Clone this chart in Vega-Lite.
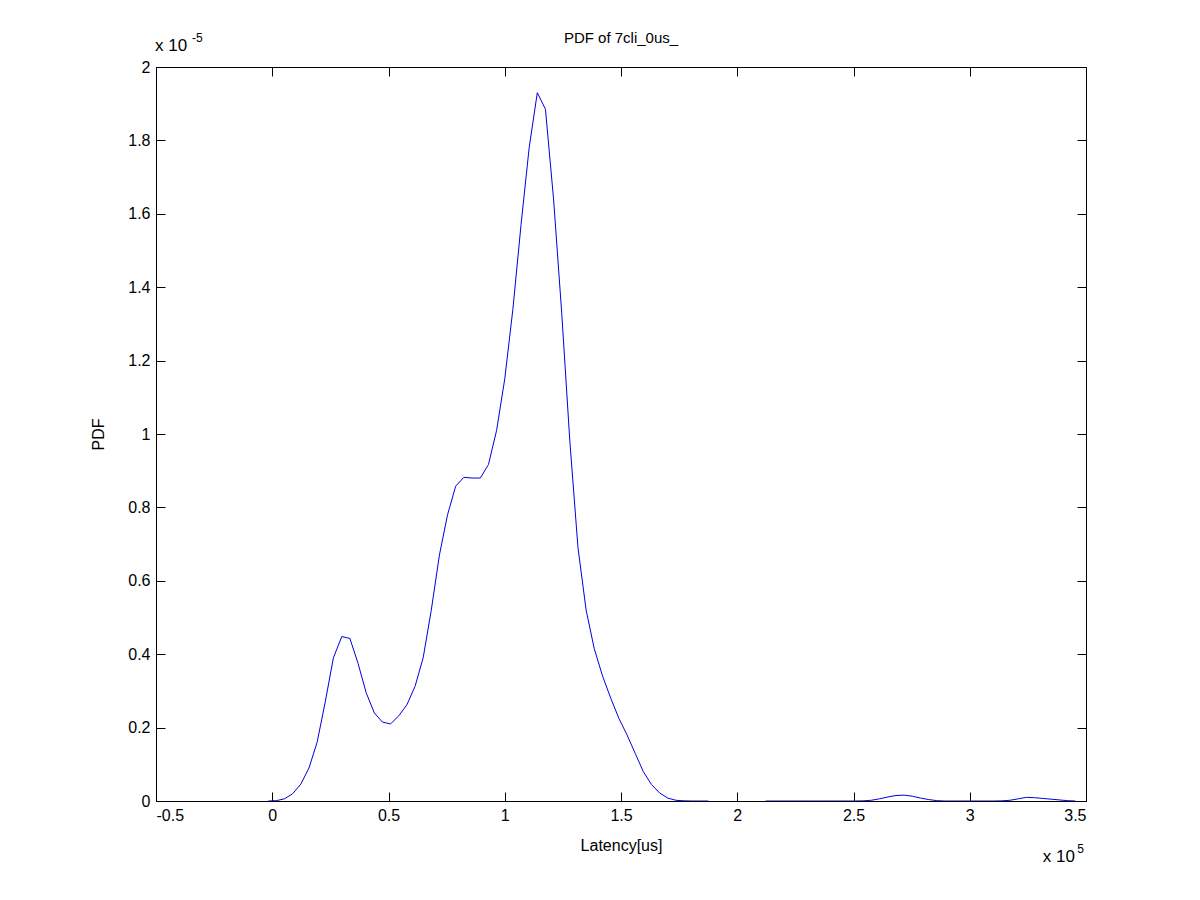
{
  "$schema": "https://vega.github.io/schema/vega-lite/v6.json",
  "width": 930,
  "height": 734,
  "autosize": "none",
  "padding": {"left": 156, "top": 67, "right": 114, "bottom": 99},
  "background": "white",
  "config": {
    "view": {"stroke": "black", "strokeWidth": 1},
    "font": "Liberation Sans",
    "axis": {
      "grid": false,
      "domainColor": "black",
      "tickColor": "black",
      "tickWidth": 1,
      "tickSize": -9,
      "labelColor": "black",
      "labelFontSize": 16,
      "titleFontSize": 16,
      "titleFontWeight": "normal",
      "titleColor": "black",
      "labelPadding": 15
    }
  },
  "title": {"text": "PDF of 7cli_0us_", "fontSize": 15, "fontWeight": "normal", "color": "black", "offset": -14},
  "data": {"values": [
    {"latency": -0.017, "pdf": 0, "segment": 1},
    {"latency": 0.018, "pdf": 0.001, "segment": 1},
    {"latency": 0.053, "pdf": 0.006, "segment": 1},
    {"latency": 0.088, "pdf": 0.02, "segment": 1},
    {"latency": 0.123, "pdf": 0.046, "segment": 1},
    {"latency": 0.158, "pdf": 0.09, "segment": 1},
    {"latency": 0.193, "pdf": 0.16, "segment": 1},
    {"latency": 0.228, "pdf": 0.27, "segment": 1},
    {"latency": 0.263, "pdf": 0.39, "segment": 1},
    {"latency": 0.299, "pdf": 0.448, "segment": 1},
    {"latency": 0.334, "pdf": 0.443, "segment": 1},
    {"latency": 0.369, "pdf": 0.375, "segment": 1},
    {"latency": 0.404, "pdf": 0.295, "segment": 1},
    {"latency": 0.439, "pdf": 0.24, "segment": 1},
    {"latency": 0.474, "pdf": 0.215, "segment": 1},
    {"latency": 0.509, "pdf": 0.21, "segment": 1},
    {"latency": 0.544, "pdf": 0.232, "segment": 1},
    {"latency": 0.579, "pdf": 0.262, "segment": 1},
    {"latency": 0.614, "pdf": 0.312, "segment": 1},
    {"latency": 0.649, "pdf": 0.39, "segment": 1},
    {"latency": 0.684, "pdf": 0.52, "segment": 1},
    {"latency": 0.719, "pdf": 0.67, "segment": 1},
    {"latency": 0.754, "pdf": 0.78, "segment": 1},
    {"latency": 0.789, "pdf": 0.858, "segment": 1},
    {"latency": 0.824, "pdf": 0.882, "segment": 1},
    {"latency": 0.86, "pdf": 0.88, "segment": 1},
    {"latency": 0.895, "pdf": 0.88, "segment": 1},
    {"latency": 0.93, "pdf": 0.917, "segment": 1},
    {"latency": 0.965, "pdf": 1.01, "segment": 1},
    {"latency": 1.0, "pdf": 1.15, "segment": 1},
    {"latency": 1.035, "pdf": 1.34, "segment": 1},
    {"latency": 1.07, "pdf": 1.57, "segment": 1},
    {"latency": 1.105, "pdf": 1.78, "segment": 1},
    {"latency": 1.14, "pdf": 1.93, "segment": 1},
    {"latency": 1.175, "pdf": 1.885, "segment": 1},
    {"latency": 1.21, "pdf": 1.64, "segment": 1},
    {"latency": 1.245, "pdf": 1.33, "segment": 1},
    {"latency": 1.28, "pdf": 0.98, "segment": 1},
    {"latency": 1.315, "pdf": 0.69, "segment": 1},
    {"latency": 1.35, "pdf": 0.52, "segment": 1},
    {"latency": 1.385, "pdf": 0.415, "segment": 1},
    {"latency": 1.421, "pdf": 0.34, "segment": 1},
    {"latency": 1.456, "pdf": 0.28, "segment": 1},
    {"latency": 1.491, "pdf": 0.225, "segment": 1},
    {"latency": 1.526, "pdf": 0.18, "segment": 1},
    {"latency": 1.561, "pdf": 0.13, "segment": 1},
    {"latency": 1.596, "pdf": 0.08, "segment": 1},
    {"latency": 1.631, "pdf": 0.045, "segment": 1},
    {"latency": 1.666, "pdf": 0.022, "segment": 1},
    {"latency": 1.701, "pdf": 0.008, "segment": 1},
    {"latency": 1.736, "pdf": 0.002, "segment": 1},
    {"latency": 1.771, "pdf": 0.0005, "segment": 1},
    {"latency": 1.806, "pdf": 0, "segment": 1},
    {"latency": 1.841, "pdf": 0, "segment": 1},
    {"latency": 1.876, "pdf": 0, "segment": 1},
    {"latency": 2.122, "pdf": 0, "segment": 2},
    {"latency": 2.157, "pdf": 0, "segment": 2},
    {"latency": 2.192, "pdf": 0, "segment": 2},
    {"latency": 2.227, "pdf": 0, "segment": 2},
    {"latency": 2.262, "pdf": 0, "segment": 2},
    {"latency": 2.297, "pdf": 0, "segment": 2},
    {"latency": 2.332, "pdf": 0, "segment": 2},
    {"latency": 2.367, "pdf": 0, "segment": 2},
    {"latency": 2.402, "pdf": 0, "segment": 2},
    {"latency": 2.437, "pdf": 0, "segment": 2},
    {"latency": 2.472, "pdf": 0, "segment": 2},
    {"latency": 2.507, "pdf": 0, "segment": 2},
    {"latency": 2.542, "pdf": 0.0005, "segment": 2},
    {"latency": 2.577, "pdf": 0.002, "segment": 2},
    {"latency": 2.612, "pdf": 0.006, "segment": 2},
    {"latency": 2.648, "pdf": 0.011, "segment": 2},
    {"latency": 2.683, "pdf": 0.015, "segment": 2},
    {"latency": 2.718, "pdf": 0.016, "segment": 2},
    {"latency": 2.753, "pdf": 0.013, "segment": 2},
    {"latency": 2.788, "pdf": 0.008, "segment": 2},
    {"latency": 2.823, "pdf": 0.004, "segment": 2},
    {"latency": 2.858, "pdf": 0.001, "segment": 2},
    {"latency": 2.893, "pdf": 0, "segment": 2},
    {"latency": 2.928, "pdf": 0, "segment": 2},
    {"latency": 2.963, "pdf": 0, "segment": 2},
    {"latency": 2.998, "pdf": 0, "segment": 2},
    {"latency": 3.033, "pdf": 0, "segment": 2},
    {"latency": 3.068, "pdf": 0, "segment": 2},
    {"latency": 3.103, "pdf": 0, "segment": 2},
    {"latency": 3.138, "pdf": 0.0005, "segment": 2},
    {"latency": 3.173, "pdf": 0.002, "segment": 2},
    {"latency": 3.209, "pdf": 0.006, "segment": 2},
    {"latency": 3.244, "pdf": 0.01, "segment": 2},
    {"latency": 3.279, "pdf": 0.009, "segment": 2},
    {"latency": 3.314, "pdf": 0.007, "segment": 2},
    {"latency": 3.349, "pdf": 0.005, "segment": 2},
    {"latency": 3.384, "pdf": 0.003, "segment": 2},
    {"latency": 3.419, "pdf": 0.001, "segment": 2},
    {"latency": 3.454, "pdf": 0, "segment": 2}
  ]},
  "layer": [
    {
      "mark": {"type": "line", "color": "#0000dd", "strokeWidth": 1, "clip": true},
      "encoding": {
        "x": {"field": "latency", "type": "quantitative",
              "scale": {"domain": [-0.5, 3.5], "nice": false, "zero": false},
              "axis": {"orient": "bottom", "title": "Latency[us]", "titlePadding": 14,
                       "values": [-0.5, 0, 0.5, 1, 1.5, 2, 2.5, 3, 3.5],
                       "labelExpr": "'' + datum.value"}},
        "y": {"field": "pdf", "type": "quantitative",
              "scale": {"domain": [0, 2], "nice": false},
              "axis": {"orient": "left", "title": "PDF", "titlePadding": 21,
                       "values": [0, 0.2, 0.4, 0.6, 0.8, 1, 1.2, 1.4, 1.6, 1.8, 2],
                       "labelExpr": "'' + datum.value"}},
        "detail": {"field": "segment", "type": "nominal"}
      }
    },
    {
      "mark": {"type": "line", "strokeOpacity": 0},
      "encoding": {
        "x": {"field": "latency", "type": "quantitative",
              "axis": {"orient": "top", "title": null, "labels": false,
                       "values": [-0.5, 0, 0.5, 1, 1.5, 2, 2.5, 3, 3.5]}},
        "y": {"field": "pdf", "type": "quantitative",
              "axis": {"orient": "right", "title": null, "labels": false,
                       "values": [0, 0.2, 0.4, 0.6, 0.8, 1, 1.2, 1.4, 1.6, 1.8, 2]}},
        "detail": {"field": "segment", "type": "nominal"}
      }
    },
    {
      "data": {"values": [{"label": "x 10"}]},
      "mark": {"type": "text", "align": "left", "baseline": "alphabetic", "fontSize": 17, "dx": -1, "dy": -16, "color": "black"},
      "encoding": {
        "text": {"field": "label"},
        "x": {"datum": -0.5, "type": "quantitative", "axis": null},
        "y": {"datum": 2, "type": "quantitative", "axis": null}
      }
    },
    {
      "data": {"values": [{"label": "-5"}]},
      "mark": {"type": "text", "align": "left", "baseline": "alphabetic", "fontSize": 12, "dx": 36, "dy": -25, "color": "black"},
      "encoding": {
        "text": {"field": "label"},
        "x": {"datum": -0.5, "type": "quantitative", "axis": null},
        "y": {"datum": 2, "type": "quantitative", "axis": null}
      }
    },
    {
      "data": {"values": [{"label": "x 10"}]},
      "mark": {"type": "text", "align": "right", "baseline": "alphabetic", "fontSize": 17, "dx": -11, "dy": 61, "color": "black"},
      "encoding": {
        "text": {"field": "label"},
        "x": {"datum": 3.5, "type": "quantitative", "axis": null},
        "y": {"datum": 0, "type": "quantitative", "axis": null}
      }
    },
    {
      "data": {"values": [{"label": "5"}]},
      "mark": {"type": "text", "align": "right", "baseline": "alphabetic", "fontSize": 12, "dx": -2, "dy": 52, "color": "black"},
      "encoding": {
        "text": {"field": "label"},
        "x": {"datum": 3.5, "type": "quantitative", "axis": null},
        "y": {"datum": 0, "type": "quantitative", "axis": null}
      }
    }
  ],
  "resolve": {"axis": {"x": "independent", "y": "independent"}}
}
